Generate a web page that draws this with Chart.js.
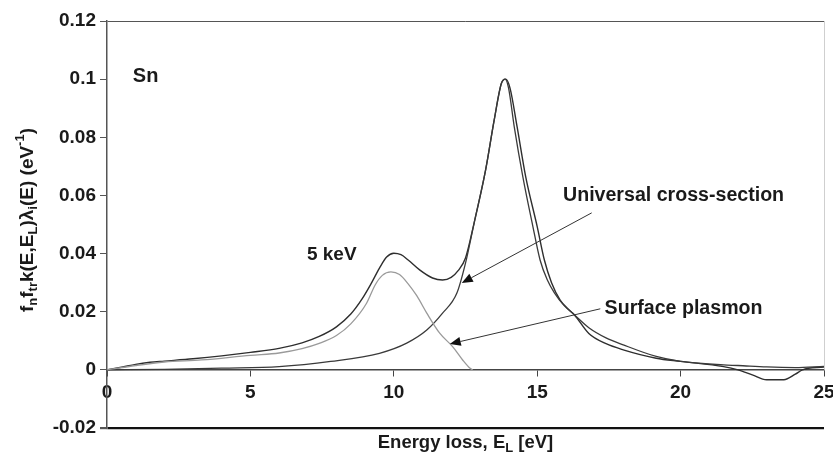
<!DOCTYPE html>
<html>
<head>
<meta charset="utf-8">
<script src="https://cdn.jsdelivr.net/npm/chart.js@4.4.1/dist/chart.umd.min.js"></script>
<style>
  html, body { margin: 0; padding: 0; background: #fff; }
  canvas { display: block; }
</style>
</head>
<body>
<canvas id="chart" width="833" height="464"></canvas>
<script>
/* global Chart */

// ---- data (energy loss in eV, cross-section in 1/eV) -----------------------
const totalE = [0, 0.5, 1, 1.5, 2, 3, 4, 5, 6, 6.8, 7.4, 8, 8.5, 8.9, 9.2, 9.5, 9.75, 10, 10.25,
  10.5, 10.9, 11.35, 11.7, 12, 12.25, 12.5, 12.8, 13.2, 13.5, 13.75, 13.9, 14.05, 14.3, 14.6, 15,
  15.25, 15.5, 15.8, 16.05, 16.3, 16.8, 17.4, 18, 19.15, 20, 21.5, 22, 22.5, 23, 23.6, 24, 24.25, 25];
const totalV = [0, 0.0009, 0.0019, 0.0026, 0.003, 0.0038, 0.0048, 0.006, 0.0074, 0.0093, 0.0115,
  0.0148, 0.0192, 0.0245, 0.0295, 0.035, 0.0388, 0.0401, 0.0396, 0.0378, 0.0344, 0.0316, 0.0309,
  0.0318, 0.0342, 0.0385, 0.0505, 0.0687, 0.0859, 0.0985, 0.1, 0.097, 0.0836, 0.0664, 0.0493,
  0.0378, 0.030, 0.024, 0.0212, 0.0189, 0.0125, 0.009, 0.0069, 0.004, 0.0029, 0.0011, 0.0,
  -0.0017, -0.0034, -0.0034, -0.0015, 0.0, 0.001];

const univE = [0, 2, 4, 6, 7.8, 9.5, 10.45, 11.15, 11.7, 12.2, 12.5, 12.8, 13.2, 13.5, 13.75,
  13.88, 14.0, 14.2, 14.5, 14.85, 15.1, 15.35, 15.6, 15.95, 16.3, 16.8, 17.4, 18, 19.15, 20,
  21.5, 22, 23, 24, 25];
const univV = [0, 0.0002, 0.0006, 0.0011, 0.0029, 0.0057, 0.0092, 0.0137, 0.0195, 0.0264, 0.0367,
  0.0505, 0.0687, 0.0859, 0.0985, 0.1, 0.097, 0.0836, 0.0664, 0.0493, 0.0378, 0.031, 0.0265,
  0.022, 0.0189, 0.0145, 0.011, 0.0086, 0.0046, 0.0029, 0.0017, 0.0015, 0.001, 0.0008, 0.0012];

const surfE = [0, 1, 2, 3.3, 5, 6, 6.8, 7.4, 8, 8.5, 9.05, 9.35, 9.6, 9.9, 10.2, 10.5, 10.8,
  11.15, 11.6, 12.05, 12.4, 12.65, 12.75];
const surfV = [0, 0.0015, 0.0027, 0.0034, 0.005, 0.0058, 0.0073, 0.0091, 0.0118, 0.0158, 0.0229,
  0.0292, 0.0325, 0.0337, 0.0328, 0.0296, 0.0255, 0.0195, 0.0126, 0.008, 0.0034, 0.0006, 0];

const xTicks = [0, 5, 10, 15, 20, 25];
const xTickLabels = ['0', '5', '10', '15', '20', '25'];
const yTicks = [-0.02, 0, 0.02, 0.04, 0.06, 0.08, 0.1, 0.12];
const yTickLabels = ['-0.02', '0', '0.02', '0.04', '0.06', '0.08', '0.1', '0.12'];

const FONT = '"Liberation Sans", Arial, sans-serif';
const INK = '#1a1a1a';

const toPoints = (xs, ys) => xs.map((x, i) => ({ x, y: ys[i] }));

function line(data, color, width) {
  return {
    data,
    borderColor: color,
    borderWidth: width,
    pointRadius: 0,
    fill: false,
    cubicInterpolationMode: 'monotone',
  };
}

// ---- text helpers ----------------------------------------------------------
// parts: [text, kind] where kind is '' | 'sub' | 'sup'
function richText(ctx, parts, x, y, size, align) {
  const fontFor = (k) => `bold ${k ? Math.round(size * 0.68) : size}px ${FONT}`;
  const widths = parts.map(([t, k]) => {
    ctx.font = fontFor(k);
    return ctx.measureText(t).width;
  });
  const total = widths.reduce((a, b) => a + b, 0);
  let cx = align === 'center' ? x - total / 2 : x;
  ctx.textAlign = 'left';
  ctx.textBaseline = 'middle';
  parts.forEach(([t, k], i) => {
    ctx.font = fontFor(k);
    const dy = k === 'sub' ? size * 0.3 : k === 'sup' ? -size * 0.38 : 0;
    ctx.fillText(t, cx, y + dy);
    cx += widths[i];
  });
}

function arrow(ctx, x1, y1, x2, y2) {
  const ang = Math.atan2(y2 - y1, x2 - x1);
  const len = 11, half = 4.5;
  ctx.beginPath();
  ctx.moveTo(x1, y1);
  ctx.lineTo(x2 - Math.cos(ang) * len, y2 - Math.sin(ang) * len);
  ctx.stroke();
  ctx.beginPath();
  ctx.moveTo(x2, y2);
  ctx.lineTo(x2 - Math.cos(ang) * len - Math.sin(ang) * half, y2 - Math.sin(ang) * len + Math.cos(ang) * half);
  ctx.lineTo(x2 - Math.cos(ang) * len + Math.sin(ang) * half, y2 - Math.sin(ang) * len - Math.cos(ang) * half);
  ctx.closePath();
  ctx.fill();
}

// titles, labels and arrows drawn on top of the chart
const decorations = {
  id: 'decorations',
  afterDraw(chart) {
    const { ctx, chartArea: a, scales: { x, y } } = chart;
    ctx.save();

    // faint frame line on the right edge
    ctx.strokeStyle = '#cfcfcf';
    ctx.lineWidth = 1;
    ctx.beginPath();
    ctx.moveTo(a.right + 0.5, a.top);
    ctx.lineTo(a.right + 0.5, y.getPixelForValue(0));
    ctx.stroke();

    ctx.fillStyle = INK;
    richText(ctx, [['Sn', '']], x.getPixelForValue(0.9), y.getPixelForValue(0.101), 20, 'left');
    richText(ctx, [['5 keV', '']], x.getPixelForValue(6.97), y.getPixelForValue(0.0395), 19, 'left');
    richText(ctx, [['Universal cross-section', '']], x.getPixelForValue(15.9), y.getPixelForValue(0.0598), 19.6, 'left');
    richText(ctx, [['Surface plasmon', '']], x.getPixelForValue(17.35), y.getPixelForValue(0.021), 19.6, 'left');

    ctx.strokeStyle = '#333';
    ctx.fillStyle = '#111';
    ctx.lineWidth = 1;
    arrow(ctx, x.getPixelForValue(16.9), y.getPixelForValue(0.054), x.getPixelForValue(12.37), y.getPixelForValue(0.0299));
    arrow(ctx, x.getPixelForValue(17.2), y.getPixelForValue(0.021), x.getPixelForValue(11.95), y.getPixelForValue(0.0089));

    // axis titles
    ctx.fillStyle = INK;
    richText(ctx, [['Energy loss, E', ''], ['L', 'sub'], [' [eV]', '']], (a.left + a.right) / 2, 443, 18.5, 'center');

    ctx.translate(28, 220);
    ctx.rotate(-Math.PI / 2);
    richText(ctx, [
      ['f', ''], ['n', 'sub'], ['f', ''], ['tr', 'sub'], ['k(E,E', ''], ['L', 'sub'],
      [')\u03bb', ''], ['i', 'sub'], ['(E) (eV', ''], ['-1', 'sup'], [')', ''],
    ], 0, 0, 19, 'center');
    ctx.restore();
  },
};

new Chart(document.getElementById('chart'), {
  type: 'line',
  data: {
    datasets: [
      line(toPoints(surfE, surfV), '#9a9a9a', 1.3),
      line(toPoints(univE, univV), '#3a3a3a', 1.3),
      line(toPoints(totalE, totalV), '#2e2e2e', 1.4),
    ],
  },
  options: {
    responsive: false,
    animation: false,
    layout: { padding: { left: 0, right: 9, top: 21, bottom: 36 } },
    plugins: { legend: { display: false }, tooltip: { enabled: false } },
    scales: {
      x: {
        type: 'linear',
        min: 0,
        max: 25,
        position: { y: 0 },
        afterBuildTicks: (s) => { s.ticks = xTicks.map((v) => ({ value: v })); },
        afterFit: (s) => { s.paddingLeft = 0; s.paddingRight = 0; },
        ticks: {
          color: INK,
          padding: 6,
          maxRotation: 0,
          font: { family: FONT, size: 19, weight: 'bold' },
          callback: (v) => xTickLabels[xTicks.indexOf(v)],
        },
        grid: { drawOnChartArea: false, drawTicks: true, tickLength: 6, tickColor: '#444' },
        border: { display: true, color: '#444', width: 1.5 },
      },
      y: {
        min: -0.02,
        max: 0.12,
        afterBuildTicks: (s) => { s.ticks = yTicks.map((v) => ({ value: v })); },
        afterFit: (s) => { s.width = 107; },
        ticks: {
          color: INK,
          padding: 4,
          font: { family: FONT, size: 19, weight: 'bold' },
          callback: (v) => yTickLabels[yTicks.indexOf(v)],
        },
        grid: {
          color: (c) => (c.tick && c.tick.value === -0.02 ? '#111' : c.tick && c.tick.value === 0.12 ? '#555' : 'rgba(0,0,0,0)'),
          lineWidth: (c) => (c.tick && c.tick.value === -0.02 ? 2.2 : 1),
          tickColor: '#555',
          tickLength: 7,
        },
        border: { display: true, color: '#555', width: 1.5 },
      },
    },
  },
  plugins: [decorations],
});
</script>
</body>
</html>
